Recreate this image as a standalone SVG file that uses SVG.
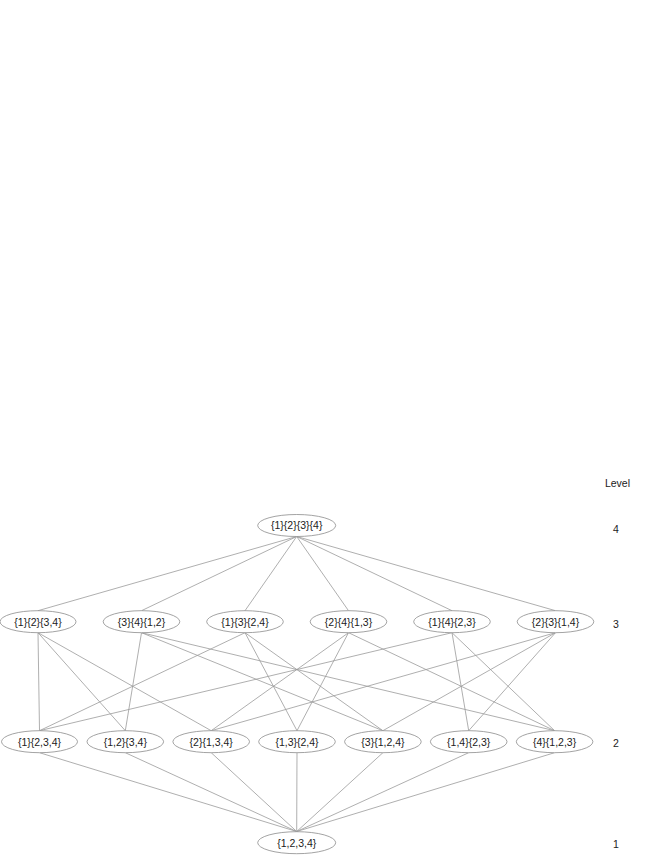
<svg xmlns="http://www.w3.org/2000/svg" width="664" height="860" viewBox="0 0 664 860">
<style>
.n ellipse{fill:#fff;stroke:#8c8c8c;stroke-width:0.8}
text{font-family:"Liberation Sans",Arial,sans-serif;font-size:10.5px;fill:#222;text-anchor:middle}
#edges line{stroke:#9a9a9a;stroke-width:0.8}
</style>
<rect width="664" height="860" fill="#fff"/>
<g id="edges">
<line x1="296.7" y1="536.5" x2="38" y2="610.7"/>
<line x1="296.7" y1="536.5" x2="141.5" y2="610.7"/>
<line x1="296.7" y1="536.5" x2="245" y2="610.7"/>
<line x1="296.7" y1="536.5" x2="348.5" y2="610.7"/>
<line x1="296.7" y1="536.5" x2="452" y2="610.7"/>
<line x1="296.7" y1="536.5" x2="555.5" y2="610.7"/>
<line x1="38" y1="632.7" x2="39.5" y2="730.7"/>
<line x1="38" y1="632.7" x2="125.3" y2="730.7"/>
<line x1="38" y1="632.7" x2="211.2" y2="730.7"/>
<line x1="141.5" y1="632.7" x2="125.3" y2="730.7"/>
<line x1="141.5" y1="632.7" x2="382.9" y2="730.7"/>
<line x1="141.5" y1="632.7" x2="554.6" y2="730.7"/>
<line x1="245" y1="632.7" x2="39.5" y2="730.7"/>
<line x1="245" y1="632.7" x2="297" y2="730.7"/>
<line x1="245" y1="632.7" x2="382.9" y2="730.7"/>
<line x1="348.5" y1="632.7" x2="211.2" y2="730.7"/>
<line x1="348.5" y1="632.7" x2="297" y2="730.7"/>
<line x1="348.5" y1="632.7" x2="554.6" y2="730.7"/>
<line x1="452" y1="632.7" x2="39.5" y2="730.7"/>
<line x1="452" y1="632.7" x2="468.7" y2="730.7"/>
<line x1="452" y1="632.7" x2="554.6" y2="730.7"/>
<line x1="555.5" y1="632.7" x2="211.2" y2="730.7"/>
<line x1="555.5" y1="632.7" x2="382.9" y2="730.7"/>
<line x1="555.5" y1="632.7" x2="468.7" y2="730.7"/>
<line x1="39.5" y1="752.7" x2="296.7" y2="831.5"/>
<line x1="125.3" y1="752.7" x2="296.7" y2="831.5"/>
<line x1="211.2" y1="752.7" x2="296.7" y2="831.5"/>
<line x1="297" y1="752.7" x2="296.7" y2="831.5"/>
<line x1="382.9" y1="752.7" x2="296.7" y2="831.5"/>
<line x1="468.7" y1="752.7" x2="296.7" y2="831.5"/>
<line x1="554.6" y1="752.7" x2="296.7" y2="831.5"/>
</g>
<g id="n1234" class="n"><ellipse cx="296.7" cy="525.5" rx="39" ry="11"/><text x="296.7" y="529.3">{1}{2}{3}{4}</text></g>
<g id="n12_34" class="n"><ellipse cx="38" cy="621.7" rx="38" ry="11"/><text x="38" y="625.5">{1}{2}{3,4}</text></g>
<g id="n34_12" class="n"><ellipse cx="141.5" cy="621.7" rx="38.3" ry="11"/><text x="141.5" y="625.5">{3}{4}{1,2}</text></g>
<g id="n13_24" class="n"><ellipse cx="245" cy="621.7" rx="38.3" ry="11"/><text x="245" y="625.5">{1}{3}{2,4}</text></g>
<g id="n24_13" class="n"><ellipse cx="348.5" cy="621.7" rx="38.3" ry="11"/><text x="348.5" y="625.5">{2}{4}{1,3}</text></g>
<g id="n14_23" class="n"><ellipse cx="452" cy="621.7" rx="38.3" ry="11"/><text x="452" y="625.5">{1}{4}{2,3}</text></g>
<g id="n23_14" class="n"><ellipse cx="555.5" cy="621.7" rx="38.3" ry="11"/><text x="555.5" y="625.5">{2}{3}{1,4}</text></g>
<g id="n1_234" class="n"><ellipse cx="39.5" cy="741.7" rx="38" ry="11"/><text x="39.5" y="745.5">{1}{2,3,4}</text></g>
<g id="n12_34b" class="n"><ellipse cx="125.3" cy="741.7" rx="38.3" ry="11"/><text x="125.3" y="745.5">{1,2}{3,4}</text></g>
<g id="n2_134" class="n"><ellipse cx="211.2" cy="741.7" rx="38.3" ry="11"/><text x="211.2" y="745.5">{2}{1,3,4}</text></g>
<g id="n13_24b" class="n"><ellipse cx="297" cy="741.7" rx="38.3" ry="11"/><text x="297" y="745.5">{1,3}{2,4}</text></g>
<g id="n3_124" class="n"><ellipse cx="382.9" cy="741.7" rx="38.3" ry="11"/><text x="382.9" y="745.5">{3}{1,2,4}</text></g>
<g id="n14_23b" class="n"><ellipse cx="468.7" cy="741.7" rx="38.3" ry="11"/><text x="468.7" y="745.5">{1,4}{2,3}</text></g>
<g id="n4_123" class="n"><ellipse cx="554.6" cy="741.7" rx="38.3" ry="11"/><text x="554.6" y="745.5">{4}{1,2,3}</text></g>
<g id="nall" class="n"><ellipse cx="296.7" cy="842.7" rx="39" ry="11"/><text x="296.7" y="846.5">{1,2,3,4}</text></g>
<g id="levels">
<text x="617.5" y="486.7">Level</text>
<text x="616" y="532.7">4</text>
<text x="616" y="628.3">3</text>
<text x="616" y="747.3">2</text>
<text x="616" y="848.3">1</text>
</g>
</svg>
